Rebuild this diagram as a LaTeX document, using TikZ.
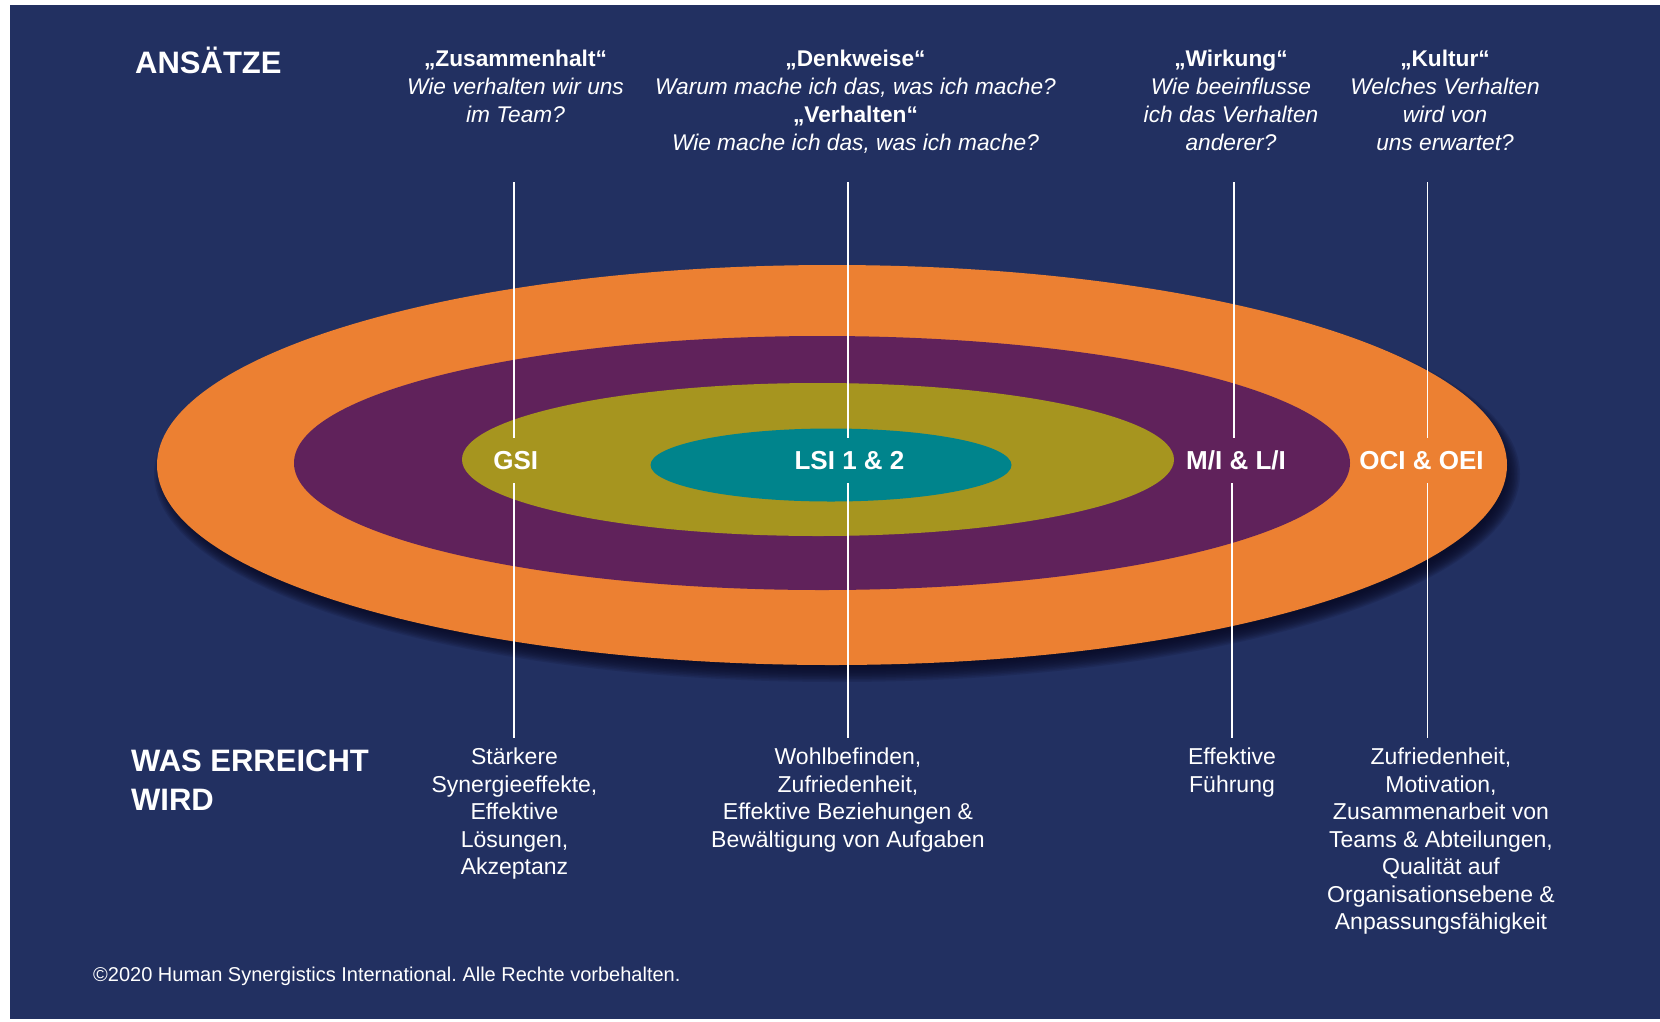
\documentclass[tikz,border=0pt]{standalone}
\usepackage{fontspec}
\setmainfont{Liberation Sans}
\frenchspacing
\definecolor{bgnavy}{HTML}{223061}
\definecolor{ringorange}{HTML}{EC8032}
\definecolor{ringpurple}{HTML}{60225B}
\definecolor{ringolive}{HTML}{A6951F}
\definecolor{ringteal}{HTML}{00848C}
\definecolor{shadowdark}{HTML}{0A0B26}

\begin{document}
\begin{tikzpicture}[x=1pt, y=-1pt,
  stem/.style={white, line width=1.7pt},
  ringlabel/.style={text=white, font=\fontsize{26}{30}\selectfont\bfseries,
    text height=18pt, text depth=0pt, inner xsep=0pt, inner ysep=13.5pt},
  headtext/.style={anchor=base, text=white, inner sep=0pt,
    font=\fontsize{22.7}{27.8}\selectfont},
  resulttext/.style={anchor=base, text=white, inner sep=0pt,
    font=\fontsize{23}{27.5}\selectfont},
  sectiontitle/.style={anchor=base west, text=white, inner sep=0pt,
    font=\fontsize{31}{39}\selectfont\bfseries},
  notetext/.style={anchor=base west, text=white, inner sep=0pt,
    font=\fontsize{20}{24}\selectfont},
]
\useasboundingbox (0,0) rectangle (1660,1021);
\fill[white] (0,0) rectangle (1660,1021);
\fill[bgnavy] (10,5) rectangle (1660,1019);

% soft drop shadow under the outer ring
\foreach \k in {0,...,11}
  \fill[shadowdark, opacity=0.15] (837,474) ellipse [x radius=683-1.5*\k, y radius=208-1.5*\k];

% nested rings
\fill[ringorange] (832,465) ellipse [x radius=675, y radius=200];
\fill[ringpurple] (822,463) ellipse [x radius=528, y radius=127];
\fill[ringolive] (818,459.5) ellipse [x radius=356, y radius=76.5];
\fill[ringteal] (831,465) ellipse [x radius=180.5, y radius=36.5];

% ring labels
\node[ringlabel] (gsi) at (515.8,460.5) {GSI};
\node[ringlabel] (lsi) at (849.5,460.5) {LSI 1 \& 2};
\node[ringlabel] (mli) at (1236,460.5) {M/I \& L/I};
\node[ringlabel] (oci) at (1421.5,460.5) {OCI \& OEI};

% section titles
\node[sectiontitle] (ansaetze) at (135,73.5) {ANSÄTZE};
\node[sectiontitle] (erreicht) at (131,771) {\begin{tabular}[t]{@{}l@{}}WAS ERREICHT\\WIRD\end{tabular}};

% questions above the rings
\node[headtext] (hZus) at (515.5,66.7) {\begin{tabular}[t]{@{}c@{}}\textbf{„Zusammenhalt“}\\\textit{Wie verhalten wir uns}\\\textit{im Team?}\end{tabular}};
\node[headtext] (hDenk) at (855.5,66.7) {\begin{tabular}[t]{@{}c@{}}\textbf{„Denkweise“}\\\textit{Warum mache ich das, was ich mache?}\\\textbf{„Verhalten“}\\\textit{Wie mache ich das, was ich mache?}\end{tabular}};
\node[headtext] (hWirk) at (1231,66.7) {\begin{tabular}[t]{@{}c@{}}\textbf{„Wirkung“}\\\textit{Wie beeinflusse}\\\textit{ich das Verhalten}\\\textit{anderer?}\end{tabular}};
\node[headtext] (hKult) at (1445,66.7) {\begin{tabular}[t]{@{}c@{}}\textbf{„Kultur“}\\\textit{Welches Verhalten}\\\textit{wird von}\\\textit{uns erwartet?}\end{tabular}};

% outcomes below the rings
\node[resulttext] (bZus) at (514.5,764.5) {\begin{tabular}[t]{@{}c@{}}Stärkere\\Synergieeffekte,\\Effektive\\Lösungen,\\Akzeptanz\end{tabular}};
\node[resulttext] (bDenk) at (848,764.5) {\begin{tabular}[t]{@{}c@{}}Wohlbefinden,\\Zufriedenheit,\\Effektive Beziehungen \&\\Bewältigung von Aufgaben\end{tabular}};
\node[resulttext] (bWirk) at (1232,764.5) {\begin{tabular}[t]{@{}c@{}}Effektive\\Führung\end{tabular}};
\node[resulttext] (bKult) at (1441,764.5) {\begin{tabular}[t]{@{}c@{}}Zufriedenheit,\\Motivation,\\Zusammenarbeit von\\Teams \& Abteilungen,\\Qualität auf\\Organisationsebene \&\\Anpassungsfähigkeit\end{tabular}};

% copyright line
\node[notetext] (copy) at (93,981) {©2020 Human Synergistics International. Alle Rechte vorbehalten.};

% vertical stems through the rings, interrupted at each label
\coordinate (gsiTop) at (514,182);    \coordinate (gsiBot) at (514,737.5);
\coordinate (lsiTop) at (848.3,182);  \coordinate (lsiBot) at (848.3,737.5);
\coordinate (mliTop) at (1234,182);   \coordinate (mliBot) at (1232,737.5);
\coordinate (ociTop) at (1427.5,182); \coordinate (ociBot) at (1427.5,737.5);

\draw[stem] (gsiTop) -- (gsiTop |- gsi.north);
\draw[stem] (gsiBot |- gsi.south) -- (gsiBot);
\draw[stem] (lsiTop) -- (lsiTop |- lsi.north);
\draw[stem] (lsiBot |- lsi.south) -- (lsiBot);
\draw[stem] (mliTop) -- (mliTop |- mli.north);
\draw[stem] (mliBot |- mli.south) -- (mliBot);
\draw[stem] (ociTop) -- (ociTop |- oci.north);
\draw[stem] (ociBot |- oci.south) -- (ociBot);
\end{tikzpicture}
\end{document}
